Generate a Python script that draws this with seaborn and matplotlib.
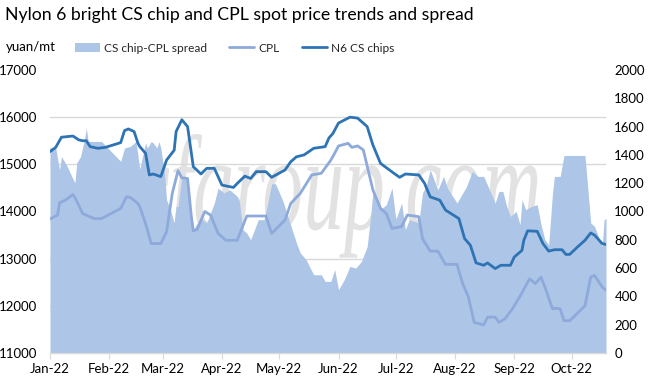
import matplotlib
matplotlib.use('Agg')
import matplotlib.pyplot as plt
import seaborn as sns
import pandas as pd
from matplotlib.patches import Patch, PathPatch
from matplotlib.lines import Line2D
from matplotlib.textpath import TextPath
from matplotlib.font_manager import FontProperties
from matplotlib.transforms import Affine2D, IdentityTransform

# ---------------- data ----------------
title = "Nylon 6 bright CS chip and CPL spot price trends and spread"
unit_label = "yuan/mt"
series_names = ["CS chip-CPL spread", "CPL", "N6 CS chips"]

n6_dates = ["01-01", "01-04", "01-07", "01-13", "01-16", "01-18", "01-20", "01-22", "01-26", "01-30",
            "02-07", "02-09", "02-11", "02-14", "02-16", "02-17", "02-20", "02-22", "02-24", "02-28",
            "03-03", "03-07", "03-08", "03-11", "03-14", "03-17", "03-21", "03-24", "03-28", "04-01",
            "04-07", "04-09", "04-13", "04-16", "04-19", "04-24", "04-27", "05-04", "05-07", "05-10",
            "05-14", "05-19", "05-25", "05-27", "05-29", "06-01", "06-07", "06-11", "06-16", "06-19",
            "06-23", "06-30", "07-03", "07-06", "07-13", "07-16", "07-19", "07-24", "07-27", "08-03",
            "08-06", "08-09", "08-12", "08-16", "08-18", "08-22", "08-25", "08-30", "09-01", "09-05",
            "09-06", "09-08", "09-13", "09-16", "09-19", "09-22", "09-26", "09-28", "09-30", "10-04",
            "10-08", "10-11", "10-13", "10-17", "10-19"]
n6_values = [15270, 15360, 15575, 15600, 15520, 15500, 15500, 15375, 15340, 15360,
             15460, 15715, 15750, 15695, 15450, 15375, 15235, 14775, 14795, 14740,
             15090, 15300, 15695, 15945, 15800, 14950, 14795, 14915, 14915, 14560,
             14510, 14595, 14750, 14700, 14845, 14845, 14725, 14880, 15055, 15160,
             15200, 15340, 15375, 15560, 15650, 15875, 16000, 15980, 15800, 15410,
             15020, 14810, 14725, 14795, 14775, 14600, 14310, 14240, 14030, 13850,
             13425, 13285, 12910, 12860, 12910, 12790, 12860, 12860, 13035, 13175,
             13390, 13590, 13580, 13320, 13160, 13190, 13190, 13090, 13090, 13245,
             13390, 13545, 13500, 13320, 13300]

cpl_dates = ["01-01", "01-05", "01-06", "01-09", "01-13", "01-14", "01-16", "01-18", "01-24", "01-28",
             "02-07", "02-10", "02-12", "02-16", "02-17", "02-20", "02-23", "02-28", "03-03", "03-06",
             "03-09", "03-11", "03-14", "03-16", "03-17", "03-19", "03-23", "03-26", "03-30", "04-03",
             "04-09", "04-11", "04-14", "04-24", "04-27", "05-04", "05-07", "05-12", "05-18", "05-23",
             "05-28", "05-30", "06-01", "06-06", "06-08", "06-11", "06-14", "06-19", "06-23", "06-26",
             "06-29", "07-04", "07-07", "07-13", "07-15", "07-16", "07-19", "07-23", "07-27", "08-02",
             "08-05", "08-08", "08-11", "08-16", "08-18", "08-22", "08-24", "08-27", "08-31", "09-04",
             "09-09", "09-12", "09-15", "09-17", "09-21", "09-23", "09-25", "09-27", "09-30", "10-08",
             "10-11", "10-13", "10-17", "10-19"]
cpl_values = [13840, 13925, 14185, 14240, 14360, 14300, 14135, 13960, 13850, 13850,
              14065, 14310, 14300, 14170, 14100, 13745, 13320, 13320, 13570, 14385,
              14865, 14715, 14700, 13885, 13590, 13620, 14000, 13925, 13535, 13390,
              13390, 13600, 13905, 13905, 13535, 13820, 14170, 14385, 14775, 14810,
              15090, 15235, 15390, 15445, 15360, 15390, 15305, 14455, 14065, 13960,
              13640, 13680, 13925, 13890, 13425, 13355, 13160, 13160, 12880, 12880,
              12470, 12185, 11650, 11595, 11760, 11760, 11650, 11720, 11935, 12200,
              12575, 12470, 12610, 12400, 11935, 11950, 11935, 11685, 11685, 12000,
              12610, 12645, 12400, 12330]

spread_dates = ["01-01", "01-04", "01-06", "01-07", "01-10", "01-14", "01-15", "01-17", "01-19", "01-20",
                "01-21", "01-28", "02-07", "02-09", "02-12", "02-15", "02-17", "02-20", "02-21", "02-23",
                "02-24", "02-26", "02-27", "02-28", "03-02", "03-03", "03-05", "03-07", "03-08", "03-09",
                "03-11", "03-14", "03-17", "03-18", "03-21", "03-24", "03-28", "03-30", "04-02", "04-05",
                "04-09", "04-10", "04-12", "04-14", "04-16", "04-18", "04-20", "04-23", "04-25", "04-27",
                "04-29", "05-03", "05-06", "05-10", "05-12", "05-15", "05-19", "05-23", "05-25", "05-28",
                "05-30", "06-01", "06-04", "06-07", "06-10", "06-13", "06-16", "06-18", "06-19", "06-23",
                "06-26", "06-29", "07-01", "07-04", "07-06", "07-08", "07-13", "07-15", "07-17", "07-19",
                "07-23", "07-26", "07-28", "08-02", "08-04", "08-07", "08-10", "08-13", "08-16", "08-19",
                "08-22", "08-24", "08-26", "08-28", "08-30", "09-02", "09-04", "09-05", "09-07", "09-10",
                "09-13", "09-15", "09-17", "09-19", "09-21", "09-22", "09-25", "09-27", "10-08", "10-11",
                "10-13", "10-17", "10-18", "10-19"]
spread_values = [1450, 1449, 1295, 1389, 1319, 1201, 1343, 1389, 1507, 1590,
                 1495, 1495, 1354, 1449, 1460, 1495, 1300, 1484, 1449, 1495,
                 1484, 1449, 1495, 1449, 1260, 1083, 1013, 919, 1036, 1036,
                 1248, 1225, 860, 895, 954, 919, 1060, 1166, 1131, 1154,
                 1107, 1083, 871, 848, 801, 871, 942, 942, 1060, 1196,
                 1196, 1071, 942, 777, 707, 660, 553, 553, 506, 506,
                 589, 447, 518, 612, 600, 647, 753, 989, 1142, 1013,
                 1048, 1166, 942, 1060, 871, 942, 919, 1131, 1189, 1295,
                 1154, 1248, 1166, 1060, 1107, 1177, 1283, 1248, 1248, 1154,
                 1060, 1142, 1142, 1036, 965, 1001, 907, 1083, 1013, 1036,
                 1048, 907, 801, 765, 1131, 1248, 1248, 1396, 1396, 919,
                 895, 753, 942, 950]

month_labels = ["Jan-22", "Feb-22", "Mar-22", "Apr-22", "May-22", "Jun-22",
                "Jul-22", "Aug-22", "Sep-22", "Oct-22"]
left_ticks = [11000, 12000, 13000, 14000, 15000, 16000, 17000]
right_ticks = [0, 200, 400, 600, 800, 1000, 1200, 1400, 1600, 1800, 2000]

# ---------------- frames ----------------
def frame(dates, values):
    return pd.DataFrame({"date": pd.to_datetime(["2022-" + d for d in dates]), "value": values})

n6_df = frame(n6_dates, n6_values)
cpl_df = frame(cpl_dates, cpl_values)
spread_df = frame(spread_dates, spread_values)

# ---------------- style ----------------
sns.set_theme(style="white")
plt.rcParams["font.family"] = ["Lato", "DejaVu Sans"]
TXT = "#000000"
AREA_C = "#adc5e6"
CPL_C = "#8eaadb"
N6_C = "#2e74b5"
GRID_C = "#d9d9d9"
FS = 9.5

W, H = 649, 381
fig = plt.figure(figsize=(W / 100, H / 100), dpi=100)
fig.patch.set_facecolor("white")

L, R, B, T = 50, 606, 353, 70
ax = fig.add_axes([L / W, 1 - B / H, (R - L) / W, (B - T) / H])
ax.set_facecolor("white")

# watermark (behind gridlines and area)
fp = FontProperties(family="Liberation Serif", style="italic")
tp = TextPath((0, 0), "ccfgroup.com", size=100, prop=fp)
ext = tp.get_extents()
sx = (538 - 100) / ext.width
sy = 1.35
wm_tr = Affine2D().translate(-ext.x0, 0).scale(sx, sy).translate(100, H - 229)
wm = PathPatch(wm_tr.transform_path(tp), facecolor="#e2e2e2", edgecolor="none",
               transform=IdentityTransform(), zorder=0.2)
ax.add_patch(wm)

# spread area on right axis
ax.fill_between(spread_df["date"], 0, spread_df["value"], color=AREA_C, lw=0, zorder=2)

# lines on left axis
ax2 = ax.twinx()
sns.lineplot(data=cpl_df, x="date", y="value", ax=ax2, color=CPL_C, lw=2.0, legend=False)
sns.lineplot(data=n6_df, x="date", y="value", ax=ax2, color=N6_C, lw=2.0, legend=False)
ax2.set_ylim(left_ticks[0], left_ticks[-1])
ax2.set_yticks(left_ticks)
ax2.yaxis.tick_left()
ax2.yaxis.set_label_position("left")
ax2.tick_params(axis="y", length=0, pad=9, labelsize=FS, labelcolor=TXT)
ax2.set_xlabel("")
ax2.set_ylabel("")

ax.set_ylim(0, 2000)
ax.set_yticks(right_ticks)
ax.yaxis.tick_right()
ax.yaxis.set_label_position("right")
ax.tick_params(axis="y", which="major", length=0, pad=6, labelsize=FS, labelcolor=TXT,
               left=False, labelleft=False, right=True, labelright=True)
ax.set_yticks([(v - left_ticks[0]) / (left_ticks[-1] - left_ticks[0]) * 2000 for v in left_ticks], minor=True)
ax.tick_params(axis="y", which="minor", length=0, left=False, right=False)
ax.grid(True, which="minor", axis="y", color=GRID_C, lw=1.0)
ax.grid(False, which="major")
ax.set_axisbelow(True)
ax.set_ylabel("")

# x axis
month_starts = pd.date_range("2022-01-01", periods=len(month_labels), freq="MS")
ax.set_xlim(pd.Timestamp("2022-01-01"), pd.Timestamp("2022-10-19"))
ax.set_xticks(month_starts)
ax.set_xticklabels(month_labels)
ax.tick_params(axis="x", length=4, width=0.8, color=GRID_C, pad=3, labelsize=FS,
               labelcolor=TXT, bottom=True)

for a in (ax, ax2):
    for s in ("top", "left", "right", "bottom"):
        a.spines[s].set_visible(False)
ax.spines["bottom"].set_visible(True)
ax.spines["bottom"].set_color(GRID_C)
ax.spines["bottom"].set_linewidth(1.0)

# title, unit, legend
fig.text(5 / W, 1 - 15 / H, title, ha="left", va="center", fontsize=12.7, color=TXT)
fig.text(6 / W, 1 - 47 / H, unit_label, ha="left", va="center", fontsize=FS, color=TXT)

handles = [Patch(facecolor=AREA_C, edgecolor="none"),
           Line2D([], [], color=CPL_C, lw=2.0),
           Line2D([], [], color=N6_C, lw=2.0)]
fig.legend(handles, series_names, loc="center left", bbox_to_anchor=(75 / W, 1 - 48 / H),
           ncol=3, frameon=False, fontsize=8.6, handlelength=2.1, handletextpad=0.3,
           columnspacing=1.9, borderaxespad=0, borderpad=0)

fig.savefig("out.png", dpi=100, facecolor="white")
